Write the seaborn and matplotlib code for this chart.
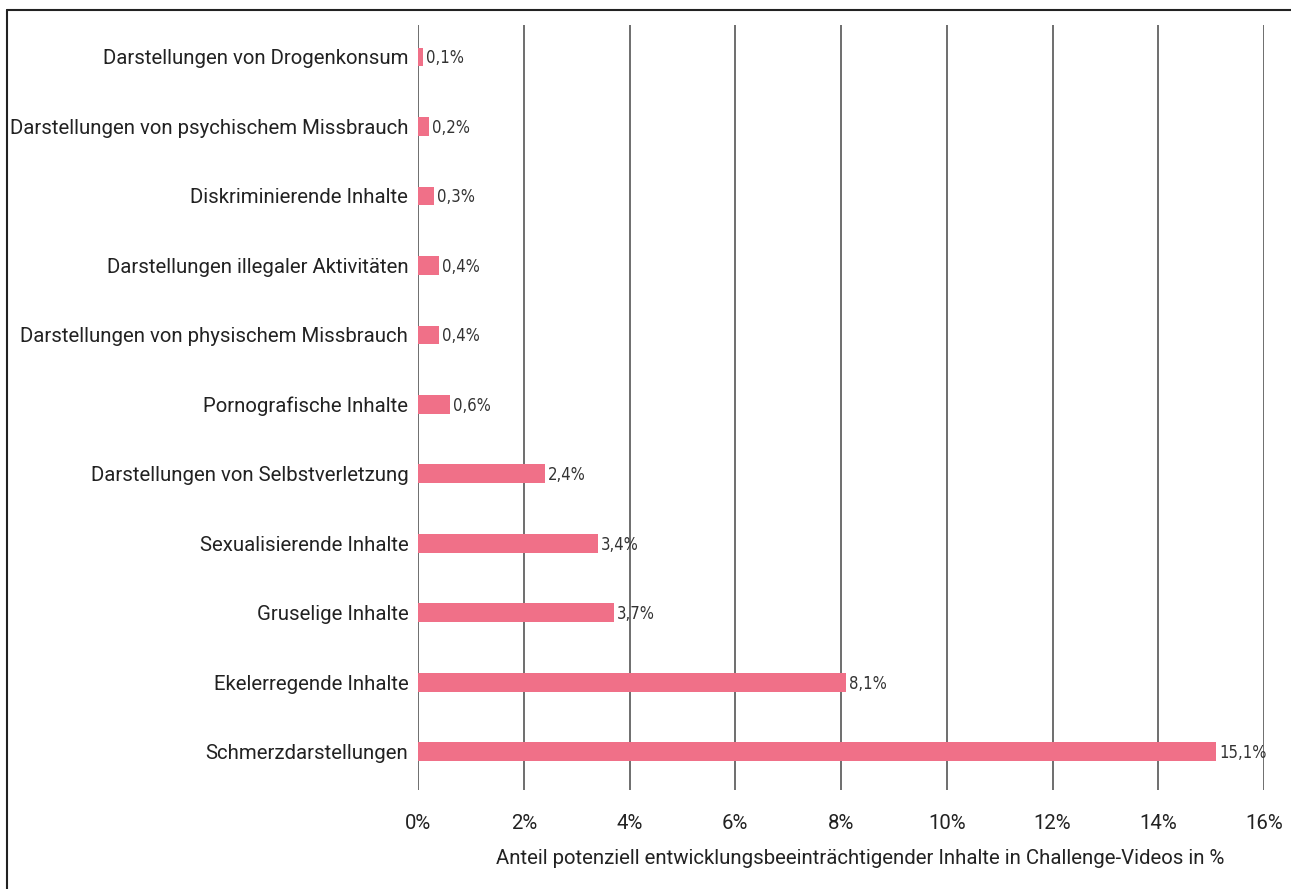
import matplotlib
matplotlib.use("Agg")
import matplotlib.pyplot as plt
import seaborn as sns
import pandas as pd
from matplotlib.lines import Line2D

categories = [
    "Darstellungen von Drogenkonsum",
    "Darstellungen von psychischem Missbrauch",
    "Diskriminierende Inhalte",
    "Darstellungen illegaler Aktivitäten",
    "Darstellungen von physischem Missbrauch",
    "Pornografische Inhalte",
    "Darstellungen von Selbstverletzung",
    "Sexualisierende Inhalte",
    "Gruselige Inhalte",
    "Ekelerregende Inhalte",
    "Schmerzdarstellungen",
]
values = [0.1, 0.2, 0.3, 0.4, 0.4, 0.6, 2.4, 3.4, 3.7, 8.1, 15.1]
xticks = [0, 2, 4, 6, 8, 10, 12, 14, 16]
xlabel = "Anteil potenziell entwicklungsbeeinträchtigender Inhalte in Challenge-Videos in %"

sns.set_theme(style="white")
plt.rcParams['font.family'] = ['Roboto', 'DejaVu Sans']

W, H = 1291, 889
fig = plt.figure(figsize=(W / 100, H / 100), dpi=100)
ax = fig.add_axes([418 / W, 1 - 790 / H, (1264 - 418) / W, (790 - 25) / H])

df = pd.DataFrame({"cat": categories, "val": values})
sns.barplot(data=df, x="val", y="cat", orient="h", color="#F07088",
            width=0.27, saturation=1, linewidth=0, ax=ax, zorder=3)

ax.set_xlim(0, 16)
ax.set_ylim(10.55, -0.46)
ax.set_xticks(xticks)
ax.set_xticklabels([f"{t}%" for t in xticks], fontsize=14.7, color="#222222")
ax.tick_params(axis="y", labelsize=14.7, labelcolor="#222222", length=0, pad=7)
ax.tick_params(axis="x", length=0, pad=17)
ax.set_ylabel("")
ax.set_xlabel(xlabel, fontsize=14.7, color="#222222")
ax.xaxis.set_label_coords((860 - 418) / (1264 - 418), -(858 - 790) / (790 - 25), transform=ax.transAxes)
ax.xaxis.label.set_va("center")

for s in ax.spines.values():
    s.set_visible(False)
ax.grid(False)
for t in xticks:
    ax.axvline(t, color="#555555", lw=1.2, zorder=1)

for i, v in enumerate(values):
    ax.text(v + 0.06, i + 0.02, f"{v:.1f}%".replace(".", ","), va="center", ha="left",
            fontsize=12, color="#333333", fontstretch="condensed",
            family=["DejaVu Sans"])

# outer frame
fig.add_artist(Line2D([7 / W, 1], [1 - 10 / H, 1 - 10 / H], color="#222222", lw=1.5,
                      transform=fig.transFigure))
fig.add_artist(Line2D([7 / W, 7 / W], [1 - 10 / H, 0], color="#222222", lw=1.5,
                      transform=fig.transFigure))

fig.savefig("out.png", dpi=100)
